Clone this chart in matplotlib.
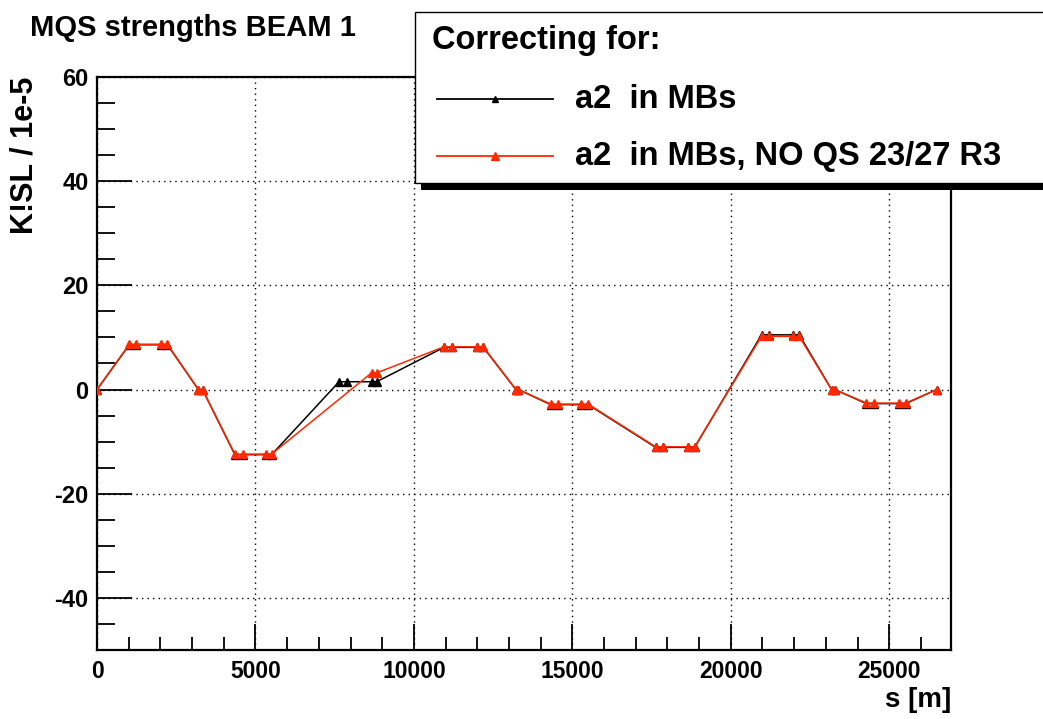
import matplotlib
matplotlib.use("Agg")
import matplotlib.pyplot as plt
from matplotlib.patches import Rectangle
from matplotlib.lines import Line2D
from matplotlib.ticker import MultipleLocator
import numpy as np

plt.rcParams['font.family'] = ['Liberation Sans', 'DejaVu Sans']
plt.rcParams['axes.unicode_minus'] = False

# Data
s_black = [0, 1020, 1230, 2010, 2220, 3200, 3330, 4350, 4600, 5320, 5510,
           7640, 7880, 8665, 8825, 10950, 11190, 11980, 12190, 13220, 13300,
           14320, 14550, 15270, 15500, 17630, 17860, 18650, 18860,
           20970, 21210, 21950, 22160, 23180, 23280,
           24280, 24510, 25300, 25520, 26500]
k_black = [0, 8.6, 8.6, 8.6, 8.6, 0, 0, -12.5, -12.5, -12.5, -12.5,
           1.5, 1.5, 1.5, 1.5, 8.1, 8.1, 8.1, 8.1, 0, 0,
           -2.9, -2.9, -2.9, -2.9, -11.1, -11.1, -11.1, -11.1,
           10.5, 10.5, 10.5, 10.5, 0, 0,
           -2.7, -2.7, -2.7, -2.7, 0]

s_red = [0, 1020, 1230, 2010, 2220, 3200, 3330, 4350, 4600, 5320, 5510,
         8665, 8825, 10950, 11190, 11980, 12190, 13220, 13300,
         14320, 14550, 15270, 15500, 17630, 17860, 18650, 18860,
         20970, 21210, 21950, 22160, 23180, 23280,
         24280, 24510, 25300, 25520, 26500]
k_red = [0, 8.7, 8.7, 8.7, 8.7, 0, 0, -12.4, -12.4, -12.4, -12.4,
         3.2, 3.2, 8.2, 8.2, 8.2, 8.2, 0, 0,
         -2.8, -2.8, -2.8, -2.8, -11.0, -11.0, -11.0, -11.0,
         10.2, 10.2, 10.2, 10.2, 0, 0,
         -2.6, -2.6, -2.6, -2.6, 0]

title = "MQS strengths BEAM 1"
ylabel = "K!SL / 1e-5"
xlabel = "s [m]"
legend_title = "Correcting for:"
labels = ["a2  in MBs", "a2  in MBs, NO QS 23/27 R3"]

RED = '#ff2a00'
W, H = 1043, 719
fig = plt.figure(figsize=(W/100, H/100), dpi=100)
ax = fig.add_axes([97/W, 1-650/H, (951-97)/W, (650-77)/H])

ax.plot(s_black, k_black, color='black', lw=1.1, marker='^', ms=6, zorder=3)
ax.plot(s_red, k_red, color=RED, lw=1.1, marker='^', ms=6, zorder=4)

ax.set_xlim(0, 26950)
ax.set_ylim(-50, 60)
ax.xaxis.set_major_locator(MultipleLocator(5000))
ax.xaxis.set_minor_locator(MultipleLocator(1000))
ax.yaxis.set_major_locator(MultipleLocator(20))
ax.yaxis.set_minor_locator(MultipleLocator(5))
ax.tick_params(axis='x', which='major', direction='in', length=19, width=1.3, labelsize=16.5, pad=7)
ax.tick_params(axis='x', which='minor', direction='in', length=9.5, width=1.3)
ax.tick_params(axis='y', which='major', direction='in', length=25, width=1.3, labelsize=17, pad=6)
ax.tick_params(axis='y', which='minor', direction='in', length=13, width=1.3)
for lab in ax.get_xticklabels() + ax.get_yticklabels():
    lab.set_fontweight('bold')
ax.grid(True, which='major', color='black', linestyle=(0, (1, 3)), linewidth=1.0)
for sp in ax.spines.values():
    sp.set_linewidth(1.6)

fig.text(30/W, 1-28/H, title, fontsize=21, fontweight='bold', ha='left', va='center')
fig.text(25/W, 1-77/H, ylabel, fontsize=22, fontweight='bold', rotation=90, ha='center', va='top')
fig.text(951/W, 1-700/H, xlabel, fontsize=20, fontweight='bold', ha='right', va='center')

# Legend box with shadow
x0, x1, y0, y1 = 415, 1060, 12, 183
fig.patches.append(Rectangle(((x0+6)/W, 1-(y1+7)/H), (x1-x0)/W, (y1-y0)/H,
                             transform=fig.transFigure, facecolor='black', edgecolor='none', zorder=5))
fig.patches.append(Rectangle((x0/W, 1-y1/H), (x1-x0)/W, (y1-y0)/H,
                             transform=fig.transFigure, facecolor='white', edgecolor='black', lw=1.0, zorder=6))
fig.text(432/W, 1-40/H, legend_title, fontsize=23.5, fontweight='bold', ha='left', va='center', zorder=7)
for i, (lab, col) in enumerate(zip(labels, ['black', RED])):
    yy = 1-(99 + 57*i)/H
    fig.lines.append(Line2D([437/W, 553/W], [yy, yy], transform=fig.transFigure, color=col, lw=1.3, zorder=7))
    fig.lines.append(Line2D([495/W], [yy], transform=fig.transFigure, color=col, marker='^', ms=6 if i else 5, zorder=7))
    fig.text(575/W, yy, lab, fontsize=23.5, fontweight='bold', ha='left', va='center', zorder=7)

fig.savefig('out.png', dpi=100)
